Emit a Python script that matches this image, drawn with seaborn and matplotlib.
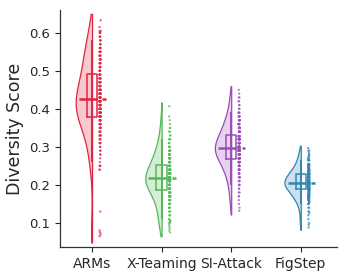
import numpy as np
import pandas as pd
import matplotlib
matplotlib.use('Agg')
import matplotlib.pyplot as plt
import seaborn as sns

# Data: diversity scores (value -> number of samples)
methods = ['ARMs', 'X-Teaming', 'SI-Attack', 'FigStep']
colors = ['#e0243f', '#55b85a', '#9a4db8', '#2f86b1']

arms_values = [0.065, 0.070, 0.075, 0.080, 0.130, 0.24, 0.25,
               0.26, 0.27, 0.28, 0.29, 0.30, 0.31, 0.32, 0.33, 0.34, 0.35, 0.36, 0.37,
               0.38, 0.39, 0.40, 0.41, 0.42,
               0.43, 0.44, 0.45, 0.46, 0.47, 0.48, 0.49,
               0.50, 0.51, 0.52, 0.53, 0.54, 0.55, 0.56, 0.57, 0.58,
               0.59, 0.60, 0.605, 0.615, 0.633]
arms_counts = [1, 1, 1, 1, 1, 2, 3,
               1, 1, 2, 2, 2, 3, 3, 4, 4, 5, 6, 7,
               9, 10, 10, 11, 10,
               10, 9, 8, 7, 6, 5, 5,
               6, 6, 5, 5, 4, 4, 4, 3, 3,
               3, 3, 2, 1, 1]

xt_values = [0.075, 0.080, 0.085, 0.090, 0.095, 0.100, 0.105,
             0.11, 0.12, 0.13, 0.14, 0.15, 0.16, 0.17, 0.18,
             0.19, 0.20, 0.21, 0.215,
             0.22, 0.23, 0.24, 0.25,
             0.26, 0.27, 0.28, 0.29, 0.30, 0.31, 0.32,
             0.33, 0.34, 0.35, 0.36, 0.37, 0.38, 0.407]
xt_counts = [1, 1, 1, 1, 1, 2, 3,
             2, 3, 3, 4, 5, 6, 8, 9,
             12, 13, 14, 11,
             14, 13, 12, 11,
             9, 8, 7, 6, 4, 3, 3,
             2, 2, 2, 1, 1, 1, 1]

si_values = [0.132, 0.14, 0.15, 0.16, 0.17, 0.18, 0.19,
             0.20, 0.21, 0.22, 0.23, 0.24, 0.25, 0.26,
             0.27, 0.28, 0.29, 0.295,
             0.30, 0.31, 0.32, 0.328,
             0.34, 0.35, 0.36, 0.37, 0.38, 0.39,
             0.40, 0.41, 0.42, 0.43, 0.44, 0.45]
si_counts = [1, 1, 1, 1, 2, 2, 2,
             3, 3, 4, 5, 7, 8, 10,
             12, 13, 14, 11,
             14, 13, 12, 11,
             10, 9, 7, 6, 4, 4,
             2, 2, 2, 2, 1, 1]

fs_values = [0.088, 0.095, 0.100, 0.110, 0.120, 0.125, 0.130, 0.140,
             0.150, 0.155, 0.160, 0.165, 0.170, 0.175, 0.180, 0.185,
             0.190, 0.195, 0.200, 0.205,
             0.210, 0.215, 0.220, 0.227,
             0.230, 0.235, 0.240, 0.245, 0.250, 0.255, 0.265,
             0.270, 0.275, 0.280, 0.285, 0.290, 0.297]
fs_counts = [1, 1, 1, 1, 1, 1, 2, 2,
             3, 3, 4, 5, 6, 8, 5, 6,
             12, 13, 13, 16,
             12, 12, 11, 11,
             8, 7, 6, 5, 5, 4, 5,
             2, 2, 2, 1, 2, 1]

values = [arms_values, xt_values, si_values, fs_values]
counts = [arms_counts, xt_counts, si_counts, fs_counts]
scores = [np.repeat(v, c) for v, c in zip(values, counts)]
df = pd.concat([pd.DataFrame({'method': m, 'score': s}) for m, s in zip(methods, scores)],
               ignore_index=True)
palette = dict(zip(methods, colors))

sns.set_style("ticks")
plt.rcParams['font.family'] = ['DejaVu Sans']

fig = plt.figure(figsize=(3.47, 2.78), dpi=100)
ax = fig.add_axes([0.173, 0.112, 0.798, 0.852])

# half violins; seaborn puts the flat side off-centre, so move it onto the category
sns.violinplot(data=df, x='method', y='score', order=methods, split=True, inner=None,
               cut=0.4, density_norm='width', width=0.235, bw_adjust=1.2, linewidth=1,
               color='gray', ax=ax)
for i, (coll, c) in enumerate(zip(ax.collections, colors)):
    for path in coll.get_paths():
        v = path.vertices
        v[:, 0] += i - v[:, 0].max()
    coll.set_facecolor(matplotlib.colors.to_rgba(c, 0.25))
    coll.set_edgecolor(c)
    coll.set_linewidth(0.9)

# open boxes
sns.boxplot(data=df, x='method', y='score', order=methods, hue='method', palette=palette,
            fill=False, width=0.15, whis=0, showfliers=False, showcaps=False,
            linewidth=1.1, medianprops={'visible': False}, legend=False, ax=ax)

# strip of points shifted to the right of each box
n_before = len(ax.collections)
sns.stripplot(data=df, x='method', y='score', order=methods, hue='method', palette=palette,
              jitter=0.01, size=1.7, alpha=0.7, linewidth=0, legend=False, ax=ax)
for coll in ax.collections[n_before:]:
    coll.set_offsets(coll.get_offsets() + np.array([0.115, 0]))

# 5-95 percentile line, median line and median tick
for i, (s, c) in enumerate(zip(scores, colors)):
    lo, med, hi = np.percentile(s, [5, 50, 95])
    ax.vlines(i, lo, hi, color=c, lw=1.4, zorder=4)
    ax.hlines(med, i - 0.19, i + 0.075, color=c, lw=1.8, zorder=5)
    ax.hlines(med, i + 0.15, i + 0.2, color=c, lw=1.8, zorder=5)

ax.set_xlim(-0.46, 3.52)
ax.set_ylim(0.037, 0.66)
ax.set_yticks([0.1, 0.2, 0.3, 0.4, 0.5, 0.6])
ax.set_xlabel('')
ax.set_ylabel('Diversity Score', fontsize=12.5)
ax.tick_params(axis='x', labelsize=10, length=3.5, width=0.8)
ax.tick_params(axis='y', labelsize=9.5, length=3.5, width=0.8)
for sp in ['left', 'bottom']:
    ax.spines[sp].set_color('#333333')
    ax.spines[sp].set_linewidth(0.9)
sns.despine(ax=ax)

fig.savefig('out.png', dpi=100)
